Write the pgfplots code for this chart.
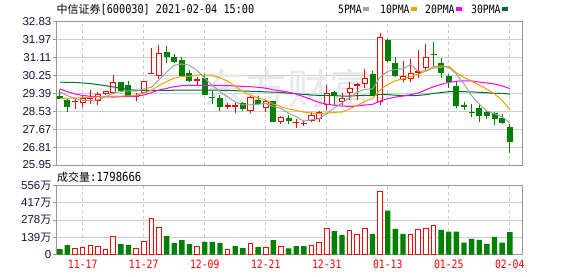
\documentclass[border=0pt]{standalone}
\usepackage{fontspec}
\setmainfont{Liberation Sans}
\newfontfamily\cjk{Noto Sans CJK SC}
\newfontfamily\monof[FakeStretch=0.85]{DejaVu Sans Mono}
\usepackage{pgfplots}
\pgfplotsset{compat=1.18}
\usepackage{pgfplotstable}
\newcommand\fs[1]{\fontsize{#1}{#1}\selectfont}
\definecolor{kgreen}{RGB}{0,128,0}
\definecolor{ma5c}{RGB}{160,160,160}
\definecolor{ma10c}{RGB}{240,160,0}
\definecolor{ma20c}{RGB}{255,0,255}
\definecolor{ma30c}{RGB}{0,110,50}
\definecolor{gridc}{RGB}{205,205,205}
\definecolor{framec}{RGB}{153,153,153}
\definecolor{labc}{RGB}{20,20,60}

\pgfplotstableread{
i ma5 ma10 ma20 ma30
0 29.45 29.15 29.60 29.93
1 29.28 29.15 29.47 29.92
2 29.14 29.17 29.36 29.91
3 29.06 29.18 29.29 29.89
4 29.04 29.20 29.25 29.86
5 29.08 29.22 29.23 29.81
6 29.22 29.24 29.23 29.76
7 29.40 29.25 29.21 29.70
8 29.48 29.26 29.23 29.63
9 29.51 29.27 29.23 29.57
10 29.49 29.29 29.25 29.54
11 29.60 29.41 29.31 29.53
12 29.68 29.54 29.42 29.53
13 30.03 29.76 29.55 29.53
14 30.41 29.96 29.63 29.53
15 30.74 30.12 29.71 29.54
16 30.80 30.20 29.76 29.55
17 30.74 30.21 29.77 29.55
18 30.49 30.26 29.77 29.55
19 30.12 30.27 29.77 29.55
20 29.77 30.26 29.77 29.55
21 29.47 30.14 29.77 29.54
22 29.22 29.98 29.76 29.53
23 28.98 29.73 29.75 29.52
24 28.84 29.48 29.72 29.50
25 28.84 29.31 29.71 29.49
26 28.87 29.17 29.68 29.48
27 28.91 29.07 29.64 29.46
28 28.75 28.87 29.56 29.45
29 28.67 28.75 29.51 29.43
30 28.44 28.64 29.45 29.40
31 28.27 28.57 29.35 29.37
32 28.06 28.49 29.23 29.34
33 28.12 28.44 29.09 29.31
34 28.17 28.42 28.95 29.29
35 28.43 28.44 28.87 29.29
36 28.69 28.48 28.82 29.28
37 28.93 28.49 28.78 29.26
38 29.18 28.65 28.76 29.26
39 29.45 28.81 28.78 29.28
40 29.59 29.01 28.83 29.30
41 29.60 29.14 28.86 29.28
42 30.18 29.55 29.02 29.34
43 30.45 29.82 29.13 29.33
44 30.54 30.00 29.21 29.30
45 30.57 30.08 29.26 29.28
46 30.77 30.19 29.33 29.28
47 30.45 30.31 29.40 29.29
48 30.47 30.46 29.56 29.33
49 30.67 30.61 29.71 29.39
50 30.71 30.64 29.82 29.43
51 30.63 30.70 29.92 29.47
52 30.31 30.38 29.97 29.47
53 29.84 30.15 29.99 29.47
54 29.28 29.98 29.99 29.46
55 28.87 29.79 29.93 29.44
56 28.54 29.59 29.89 29.42
57 28.41 29.36 29.84 29.39
58 28.26 29.05 29.75 29.39
59 27.98 28.63 29.62 29.35
}\matab

\pgfplotstableread{
i v
2 49
3 57
4 73
5 65
6 41
7 146
10 49
11 108
12 292
13 219
18 65
22 41
25 89
27 59
29 65
33 76
34 100
35 213
38 197
39 165
40 213
42 513
46 165
47 205
48 213
49 238
}\volup

\pgfplotstableread{
i v
0 43
1 76
8 84
9 76
14 149
15 92
16 116
17 84
19 103
20 103
21 92
23 68
24 51
26 59
28 116
30 49
31 68
32 68
36 189
37 159
41 167
43 354
44 208
45 167
50 200
51 184
52 184
53 95
54 127
55 119
56 86
57 143
58 95
59 179.87
}\voldn

\pgfplotsset{
  upw/.style={draw=red, line width=1pt, mark=none, solid, forget plot},
  upb/.style={draw=red, fill=white, line width=1pt, mark=none, solid, forget plot},
  dnw/.style={draw=kgreen, line width=1pt, mark=none, solid, forget plot},
  dnb/.style={draw=kgreen, fill=kgreen, line width=1pt, mark=none, solid, forget plot},
  panel/.style={scale only axis, width=466pt, xmin=-0.5, xmax=60.6,
    axis line style={draw=framec, line width=1pt},
    xmajorgrids, ymajorgrids,
    x grid style={draw=gridc, line width=1pt, dash pattern=on 3pt off 3pt},
    y grid style={draw=gridc, line width=1pt},
    xtick={3,11,19,27,35,43,51,59},
    xtick style={draw=none},
    ytick pos=left, tick align=outside, major tick length=3pt,
    ytick style={draw=framec, line width=1pt},
    yticklabel style={font=\fs{11.5}, text=labc, inner sep=1.5pt},
  },
}

% i o h l c
\newcommand\candle[5]{%
  \pgfmathsetmacro\xl{#1-0.33}\pgfmathsetmacro\xr{#1+0.33}%
  \ifdim #5pt<#2pt \def\cw{dnw}\def\cb{dnb}\else \def\cw{upw}\def\cb{upb}\fi
  \edef\tmp{\noexpand\addplot[\cw] coordinates {(#1,#4) (#1,#3)};
    \noexpand\addplot[\cb] coordinates {(\xl,#2) (\xr,#2) (\xr,#5) (\xl,#5)} -- cycle;}\tmp}

\begin{document}
\begin{tikzpicture}
\path[use as bounding box] (0pt,0pt) rectangle (578pt,276pt);
\begin{axis}[panel, at={(56pt,111pt)}, anchor=south west, height=143.3pt,
  ymin=25.95, ymax=32.83,
  ytick={25.95,26.81,27.67,28.53,29.39,30.25,31.11,31.97,32.83},
  yticklabels={25.95,26.81,27.67,28.53,29.39,30.25,31.11,31.97,32.83},
  xticklabels={,,}]
\node[text=black!9, font=\cjk\fs{42}] at (axis cs:29.8,29.65) {东方财富};
\candle{0}{29.26}{29.55}{29.10}{29.13}
\candle{1}{29.07}{29.10}{28.51}{28.75}
\candle{2}{28.98}{29.13}{28.65}{29.00}
\candle{3}{28.96}{29.26}{28.72}{29.15}
\candle{4}{29.13}{29.55}{28.88}{29.16}
\candle{5}{29.07}{29.45}{28.81}{29.34}
\candle{6}{29.36}{29.49}{29.29}{29.46}
\candle{7}{29.45}{30.27}{29.36}{29.92}
\candle{8}{29.92}{29.95}{29.45}{29.55}
\candle{9}{29.77}{29.98}{29.23}{29.26}
\candle{10}{29.25}{29.42}{29.04}{29.27}
\candle{11}{29.45}{29.99}{29.39}{29.98}
\candle{12}{30.32}{31.57}{30.25}{30.34}
\candle{13}{30.25}{31.71}{30.09}{31.31}
\candle{14}{31.33}{31.66}{30.86}{31.15}
\candle{15}{31.09}{31.28}{30.83}{30.94}
\candle{16}{30.99}{31.15}{30.24}{30.27}
\candle{17}{30.32}{30.51}{29.95}{30.03}
\candle{18}{30.02}{30.19}{29.79}{30.04}
\candle{19}{30.11}{30.32}{29.31}{29.34}
\candle{20}{29.21}{29.52}{28.88}{29.19}
\candle{21}{29.15}{29.31}{28.56}{28.75}
\candle{22}{28.78}{28.94}{28.62}{28.80}
\candle{23}{28.77}{28.94}{28.46}{28.79}
\candle{24}{28.88}{28.99}{28.56}{28.65}
\candle{25}{28.56}{29.26}{28.43}{29.20}
\candle{26}{29.07}{29.26}{28.83}{28.88}
\candle{27}{28.72}{29.07}{28.51}{28.99}
\candle{28}{28.99}{29.02}{28.01}{28.05}
\candle{29}{28.05}{28.32}{27.92}{28.21}
\candle{30}{28.19}{28.35}{27.92}{28.08}
\candle{31}{27.98}{28.15}{27.72}{28.00}
\candle{32}{27.94}{28.11}{27.82}{27.96}
\candle{33}{28.11}{28.51}{28.00}{28.35}
\candle{34}{28.19}{28.54}{28.03}{28.46}
\candle{35}{28.86}{29.79}{28.59}{29.39}
\candle{36}{29.44}{29.50}{28.83}{29.28}
\candle{37}{28.99}{29.39}{28.83}{29.15}
\candle{38}{29.44}{29.95}{29.07}{29.63}
\candle{39}{29.78}{29.87}{29.07}{29.80}
\candle{40}{29.87}{30.56}{29.63}{30.08}
\candle{41}{30.30}{30.46}{29.31}{29.34}
\candle{42}{29.02}{32.27}{28.83}{32.06}
\candle{43}{31.95}{32.00}{30.88}{30.99}
\candle{44}{30.83}{31.15}{30.19}{30.24}
\candle{45}{30.06}{30.94}{29.95}{30.22}
\candle{46}{30.08}{31.04}{29.92}{30.35}
\candle{47}{30.41}{31.47}{30.11}{30.43}
\candle{48}{30.62}{31.76}{30.51}{31.12}
\candle{49}{31.27}{31.87}{30.67}{31.25}
\candle{50}{30.83}{31.07}{30.14}{30.38}
\candle{51}{30.19}{30.30}{29.66}{29.98}
\candle{52}{29.74}{29.98}{28.70}{28.80}
\candle{53}{28.79}{28.96}{28.59}{28.77}
\candle{54}{28.49}{28.86}{28.27}{28.47}
\candle{55}{28.67}{28.83}{28.03}{28.35}
\candle{56}{28.48}{28.59}{28.16}{28.32}
\candle{57}{28.43}{28.48}{27.87}{28.16}
\candle{58}{28.16}{28.38}{27.90}{27.98}
\candle{59}{27.76}{27.92}{26.54}{27.07}
\addplot[ma30c, line width=1pt, mark=none] table[x=i, y=ma30] {\matab};
\addplot[ma20c, line width=1pt, mark=none] table[x=i, y=ma20] {\matab};
\addplot[ma10c, line width=1pt, mark=none] table[x=i, y=ma10] {\matab};
\addplot[ma5c, line width=1pt, mark=none] table[x=i, y=ma5] {\matab};
\end{axis}

\begin{axis}[panel, at={(56pt,21.5pt)}, anchor=south west, height=68.8pt,
  ymin=0, ymax=556,
  ytick={0,139,278,417,556},
  yticklabels={0,{139{\cjk\fs{11}万}},{278{\cjk\fs{11}万}},{417{\cjk\fs{11}万}},{556{\cjk\fs{11}万}}},
  xticklabels={11-17,11-27,12-09,12-21,12-31,01-13,01-25,02-04},
  xticklabel style={font=\monof\fs{11.5}, text=red, inner sep=2pt}]
\addplot[ybar, bar width=4.6pt, bar shift=0pt, draw=red, fill=white, line width=1pt] table[x=i, y=v] {\volup};
\addplot[ybar, bar width=5.4pt, bar shift=0pt, draw=none, fill=kgreen] table[x=i, y=v] {\voldn};
\end{axis}

\node[anchor=west, inner sep=0pt] at (56.5pt,266pt) {{\cjk\fs{11}中信证券}{\monof\fs{12}[600030] 2021-02-04 15:00}};
\node[anchor=west, inner sep=0pt] at (57pt,99pt) {{\cjk\fs{11}成交量}{\monof\fs{12.5}:1798666}};
\newcommand\sq[1]{\hspace{1.5pt}{\color{#1}\raisebox{2.2pt}{\rule{5.5pt}{3.5pt}}}}
\node[anchor=west, inner sep=0pt, font=\monof\fs{11.5}] at (338pt,267pt) {5PMA\sq{ma5c}};
\node[anchor=west, inner sep=0pt, font=\monof\fs{11.5}] at (380pt,267pt) {10PMA\sq{ma10c}};
\node[anchor=west, inner sep=0pt, font=\monof\fs{11.5}] at (425pt,267pt) {20PMA\sq{ma20c}};
\node[anchor=west, inner sep=0pt, font=\monof\fs{11.5}] at (471pt,267pt) {30PMA\sq{ma30c}};
\end{tikzpicture}
\end{document}
